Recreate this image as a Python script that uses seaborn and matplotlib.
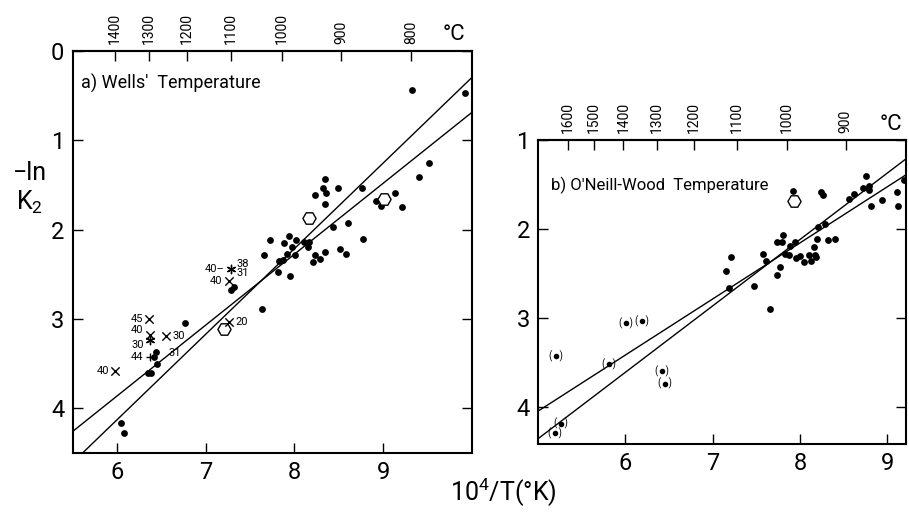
import numpy as np
import pandas as pd
import seaborn as sns
import matplotlib.pyplot as plt

# ---- a) Wells' temperature ------------------------------------------------
wells_x = [6.04, 6.08, 6.35, 6.38, 6.45, 6.42, 6.44, 6.77, 7.29, 7.32, 7.64,
           7.66, 7.72, 7.81, 7.83, 7.87, 7.88, 7.92, 7.94, 7.95, 7.97, 8.01,
           8.02, 8.11, 8.16, 8.15, 8.21, 8.23, 8.29, 8.35, 8.51, 8.58, 8.44,
           8.60, 8.23, 8.32, 8.34, 8.36, 8.35, 8.49, 8.76, 8.77, 8.98, 8.92,
           9.13, 9.21, 9.40, 9.52, 9.33, 9.92]
wells_y = [4.17, 4.28, 3.60, 3.60, 3.51, 3.43, 3.37, 3.05, 2.68, 2.64, 2.89,
           2.28, 2.12, 2.48, 2.35, 2.34, 2.15, 2.27, 2.07, 2.52, 2.20, 2.28,
           2.12, 2.14, 2.14, 2.19, 2.36, 2.28, 2.33, 2.25, 2.22, 2.27, 1.97,
           1.93, 1.61, 1.54, 1.44, 1.59, 1.71, 1.53, 1.54, 2.11, 1.74, 1.68,
           1.59, 1.75, 1.41, 1.26, 0.44, 0.47]
wells_open_x = [7.21, 8.16, 9.01]
wells_open_y = [3.11, 1.87, 1.66]

# symbols with run numbers
mark_x = [7.28, 7.26, 6.36, 6.37, 6.37, 6.55, 6.37, 5.98, 7.26]
mark_y = [2.44, 2.58, 3.00, 3.18, 3.24, 3.19, 3.43, 3.58, 3.04]
mark_sym = ['*', 'x', 'x', 'x', '*', 'x', '+', 'x', 'x']
mark_left = ['40\u2013', '40', '45', '40', '30', '', '44', '40', '']
mark_right = ['38\n31', '', '', '', '', '30', '', '', '20']
mark_va = ['center', 'center', 'center', 'bottom', 'top', 'center',
           'center', 'center', 'center']

wells_slope = [-0.793, -0.957]
wells_icpt = [8.62, 9.87]
wells_temps = [1400, 1300, 1200, 1100, 1000, 900, 800]

# ---- b) O'Neill-Wood temperature -------------------------------------------
ow_x = [8.76, 8.72, 8.79, 8.79, 8.62, 8.56, 8.81, 8.94, 9.11, 9.13, 9.19,
        7.92, 8.24, 8.26, 8.29, 8.21, 8.20, 8.32, 8.40, 7.81, 7.74, 7.80,
        7.89, 7.94, 8.16, 7.83, 7.87, 7.58, 7.61, 7.96, 8.00, 8.05, 8.10,
        8.13, 8.17, 8.19, 7.21, 7.15, 7.19, 7.47, 7.77, 7.74, 7.66]
ow_y = [1.41, 1.54, 1.52, 1.56, 1.61, 1.67, 1.74, 1.68, 1.59, 1.74, 1.45,
        1.58, 1.59, 1.62, 1.95, 1.98, 2.11, 2.13, 2.12, 2.07, 2.15, 2.15,
        2.19, 2.15, 2.20, 2.28, 2.29, 2.28, 2.36, 2.33, 2.31, 2.37, 2.30,
        2.36, 2.29, 2.32, 2.32, 2.47, 2.67, 2.64, 2.43, 2.52, 2.90]
ow_paren_x = [5.20, 6.01, 6.19, 5.81, 6.42, 6.45, 5.19, 5.26]
ow_paren_y = [3.43, 3.06, 3.04, 3.52, 3.60, 3.74, 4.30, 4.19]
ow_open_x = [7.93]
ow_open_y = [1.69]

ow_slope = [-0.746, -0.630]
ow_icpt = [8.09, 7.20]
ow_temps = [1600, 1500, 1400, 1300, 1200, 1100, 1000, 900]

sns.set_style('ticks')
plt.rcParams['font.family'] = ['Roboto', 'DejaVu Sans']
plt.rcParams['mathtext.default'] = 'regular'
plt.rcParams['text.color'] = 'black'
plt.rcParams['xtick.color'] = 'black'
plt.rcParams['ytick.color'] = 'black'

fig = plt.figure(figsize=(9.09, 5.13), dpi=100)
ax1 = fig.add_axes([0.080, 0.117, 0.439, 0.784])
ax2 = fig.add_axes([0.592, 0.1345, 0.405, 0.593])


def style_axis(ax, xlim, ylim, yticks, temps):
    ax.set_xlim(xlim)
    ax.set_ylim(ylim)
    ax.set_xticks([6, 7, 8, 9])
    ax.set_yticks(yticks)
    ax.tick_params(direction='in', length=7, width=1, labelsize=17,
                   right=True, pad=6, colors='black')
    for s in ax.spines.values():
        s.set_linewidth(1.5)
        s.set_color('black')
    ax.set_xlabel('')
    ax.set_ylabel('')
    top = ax.secondary_xaxis('top')
    top.set_xticks([1e4 / (t + 273) for t in temps],
                   labels=[str(t) for t in temps])
    top.tick_params(direction='in', length=7, width=1, labelsize=10,
                    labelrotation=90, pad=5, colors='black')
    top.spines['top'].set_linewidth(1.5)


def fit_lines(ax, slopes, icpts, xlim):
    xs = np.array(xlim)
    for m, b in zip(slopes, icpts):
        d = pd.DataFrame({'x': xs, 'y': b + m * xs})
        sns.lineplot(data=d, x='x', y='y', ax=ax, color='black', lw=1.0)


# panel a
fit_lines(ax1, wells_slope, wells_icpt, (5.5, 10.0))
sns.scatterplot(x=wells_x, y=wells_y, ax=ax1, color='black', s=24,
                edgecolor='black', linewidth=0)
sns.scatterplot(x=wells_open_x, y=wells_open_y, ax=ax1, marker='H', s=90,
                facecolor='white', edgecolor='black', linewidth=1)
for x, y, m, l, r, va in zip(mark_x, mark_y, mark_sym, mark_left,
                             mark_right, mark_va):
    mk = (6, 2, 0) if m == '*' else m
    ax1.scatter([x], [y], marker=mk, s=36, color='black', linewidth=1)
    if l:
        ax1.text(x - 0.07, y, l, ha='right', va=va, fontsize=8)
    if r:
        ax1.text(x + 0.07, y, r, ha='left', va='center', fontsize=8,
                 linespacing=0.9)
ax1.annotate('31', xy=(6.43, 3.25), xytext=(6.58, 3.38), fontsize=8,
             va='center', arrowprops=dict(arrowstyle='-', lw=0.8,
                                          shrinkA=0, shrinkB=0))
style_axis(ax1, (5.5, 10.0), (4.5, 0), [0, 1, 2, 3, 4], wells_temps)
ax1.text(0.02, 0.905, "a) Wells'  Temperature", transform=ax1.transAxes,
         fontsize=13)

# panel b
fit_lines(ax2, ow_slope, ow_icpt, (5.0, 9.22))
sns.scatterplot(x=ow_x, y=ow_y, ax=ax2, color='black', s=24,
                edgecolor='black', linewidth=0)
sns.scatterplot(x=ow_paren_x, y=ow_paren_y, ax=ax2, color='black', s=16,
                edgecolor='black', linewidth=0)
for x, y in zip(ow_paren_x, ow_paren_y):
    ax2.text(x, y, '(   )', ha='center', va='center', fontsize=7)
sns.scatterplot(x=ow_open_x, y=ow_open_y, ax=ax2, marker='H', s=90,
                facecolor='white', edgecolor='black', linewidth=1)
style_axis(ax2, (5.0, 9.22), (4.42, 1), [1, 2, 3, 4], ow_temps)
ax2.text(0.035, 0.835, "b) O'Neill-Wood  Temperature",
         transform=ax2.transAxes, fontsize=12)

# labels
fig.text(443 / 909, 1 - 35 / 513, '\u00b0C', fontsize=16, va='center')
fig.text(880 / 909, 1 - 125 / 513, '\u00b0C', fontsize=16, va='center')
fig.text(30 / 909, 1 - 173 / 513, '\u2212ln', fontsize=18, ha='center',
         va='center')
fig.text(30 / 909, 1 - 202 / 513, 'K$_2$', fontsize=18, ha='center',
         va='center')
fig.text(503 / 909, 1 - 492 / 513, '10$^4$/T(\u00b0K)', fontsize=18,
         ha='center', va='center')

fig.savefig('out.png', dpi=100)
